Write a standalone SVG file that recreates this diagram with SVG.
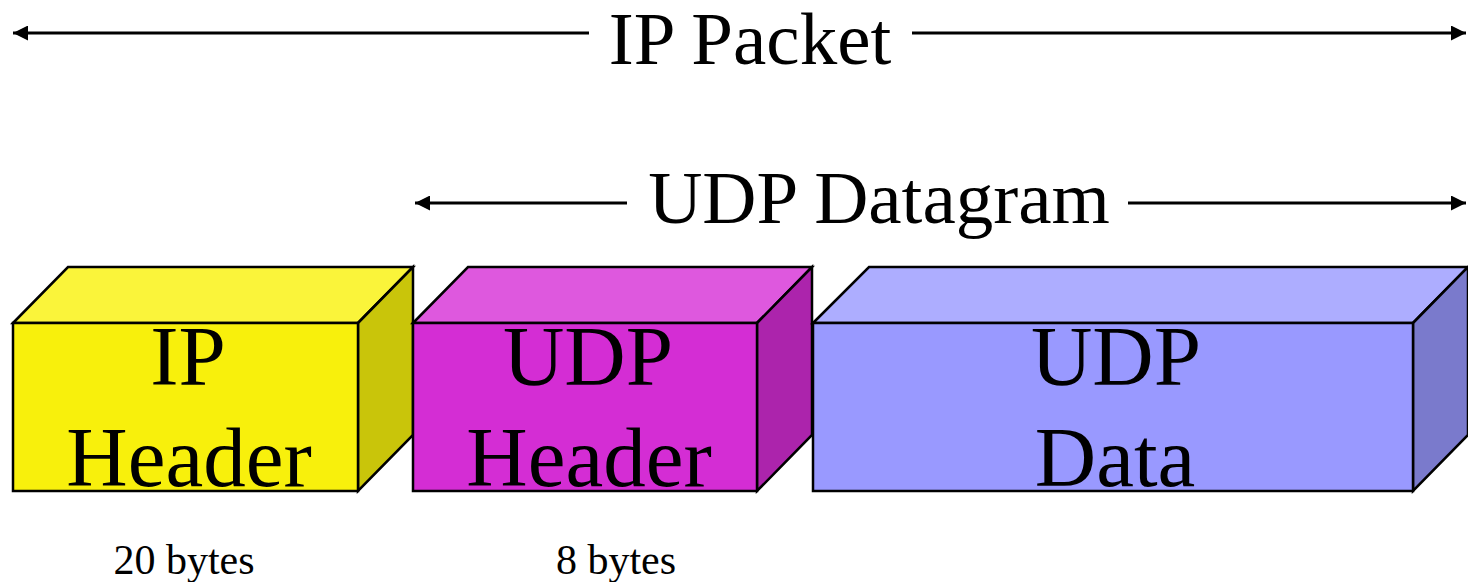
<svg xmlns="http://www.w3.org/2000/svg" width="1468" height="582" viewBox="0 0 1468 582">
  <style>
    .edge { stroke: #000; stroke-width: 3; fill: none; }
    .face { stroke: #000; stroke-width: 2.5; stroke-linejoin: miter; }
    text { font-family: 'Liberation Serif', Tinos, 'Times New Roman', 'DejaVu Serif', serif; fill: #000; text-anchor: middle; }
    .title { font-size: 75px; }
    .label { font-size: 85px; }
    .size { font-size: 42px; }
  </style>
  <defs>
    <marker id="head" viewBox="0 0 10 10" refX="10" refY="5" markerWidth="5.5" markerHeight="5" markerUnits="strokeWidth" orient="auto-start-reverse">
      <path d="M0,0 L10,5 L0,10 Z" fill="#000"/>
    </marker>
  </defs>
  <rect width="1468" height="582" fill="#fff"/>

  <!-- span arrows -->
  <g id="connectors">
    <line class="edge" x1="13" y1="33" x2="589" y2="33" marker-start="url(#head)"/>
    <line class="edge" x1="912" y1="33" x2="1466" y2="33" marker-end="url(#head)"/>
    <line class="edge" x1="415" y1="203" x2="627" y2="203" marker-start="url(#head)"/>
    <line class="edge" x1="1128" y1="203" x2="1466" y2="203" marker-end="url(#head)"/>
    <text class="title" x="750" y="64">IP Packet</text>
    <text class="title" x="879" y="223">UDP Datagram</text>
  </g>

  <!-- IP header block -->
  <g id="ip-header">
    <polygon class="face" fill="#FAF43A" points="13,323 68,267 413,267 358,323"/>
    <polygon class="face" fill="#C9C50A" points="358,323 413,267 413,435 358,491"/>
    <rect class="face" fill="#F8F00C" x="13" y="323" width="345" height="168"/>
    <text class="label" x="188" y="385">IP</text>
    <text class="label" x="189" y="486">Header</text>
    <text class="size" x="184" y="574">20 bytes</text>
  </g>

  <!-- UDP header block -->
  <g id="udp-header">
    <polygon class="face" fill="#DE58DE" points="413,323 468,267 812,267 757,323"/>
    <polygon class="face" fill="#AC24AC" points="757,323 812,267 812,435 757,491"/>
    <rect class="face" fill="#D42DD4" x="413" y="323" width="344" height="168"/>
    <text class="label" x="588" y="385">UDP</text>
    <text class="label" x="589" y="486">Header</text>
    <text class="size" x="616" y="574">8 bytes</text>
  </g>

  <!-- UDP data block -->
  <g id="udp-data">
    <polygon class="face" fill="#ADADFF" points="813,323 869,267 1468,267 1413,323"/>
    <polygon class="face" fill="#7A7ACC" points="1413,323 1468,267 1468,435 1413,491"/>
    <rect class="face" fill="#9999FF" x="813" y="323" width="600" height="168"/>
    <text class="label" x="1116" y="385">UDP</text>
    <text class="label" x="1115" y="486">Data</text>
  </g>
</svg>
